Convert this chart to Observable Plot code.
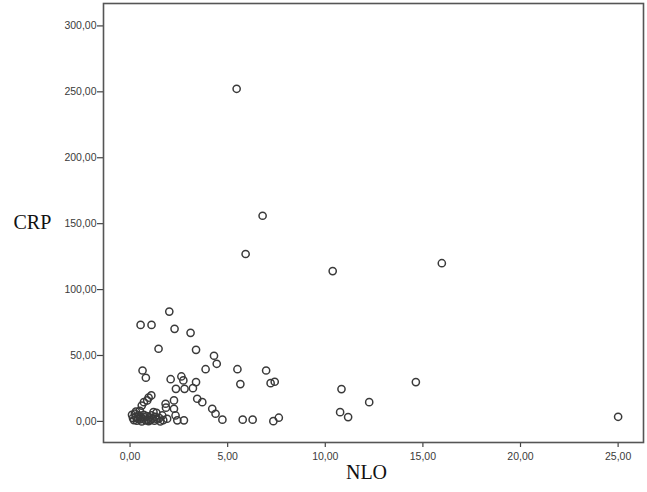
<!DOCTYPE html>
<html>
<head>
<meta charset="utf-8">
<script src="https://cdn.jsdelivr.net/npm/d3@7"></script>
<script src="https://cdn.jsdelivr.net/npm/@observablehq/plot@0.6"></script>
<style>
  html, body { margin: 0; padding: 0; background: #fff; }
</style>
</head>
<body>
<div id="chart"></div>
<script>
const nlo = [
  5.46, 6.79, 5.92, 10.38, 15.97, 25.0, 10.83, 14.64, 12.25, 10.76, 11.17,
  2.01, 0.54, 1.10, 2.28, 3.10, 1.46, 3.38, 4.30, 4.44, 3.87, 5.50, 6.97,
  0.64, 0.81, 2.08, 2.63, 2.73, 3.38, 5.65, 7.20, 7.41, 2.35, 2.79, 3.22,
  1.09, 0.95, 0.88, 0.71, 0.60, 2.25, 3.44, 3.70, 1.82, 2.25, 1.84, 4.21,
  4.38, 4.73, 1.65, 1.90, 2.33, 2.42, 2.76, 5.77, 6.28, 7.34, 7.62,
  0.10, 0.15, 0.20, 0.25, 0.30, 0.35, 0.40, 0.45, 0.50, 0.55, 0.60, 0.65,
  0.70, 0.75, 0.80, 0.85, 0.90, 0.95, 1.00, 1.05, 1.10, 1.15, 1.25, 1.30,
  1.40, 1.50, 1.55, 1.70, 0.30, 0.50, 1.20, 1.35
];
const crp = [
  252.3, 156.0, 127.0, 114.0, 120.0, 3.5, 24.5, 29.8, 14.6, 7.0, 3.3,
  83.3, 73.2, 73.2, 70.2, 67.2, 55.1, 54.3, 49.8, 43.7, 39.6, 39.6, 38.6,
  38.6, 33.1, 32.0, 34.1, 31.1, 29.8, 28.3, 29.0, 30.1, 24.7, 24.7, 25.2,
  19.7, 18.0, 15.9, 14.6, 12.0, 15.9, 17.2, 14.6, 13.4, 9.6, 10.4, 9.6,
  5.8, 1.3, 4.5, 2.0, 4.5, 0.8, 0.8, 1.3, 1.3, 0.2, 2.8,
  5.0, 2.5, 1.0, 6.0, 3.5, 0.5, 2.0, 4.5, 1.5, 3.0, 0.0, 2.0,
  5.0, 3.0, 0.8, 4.0, 1.5, 0.2, 3.0, 1.0, 4.5, 2.0, 0.5, 3.5,
  1.5, 2.5, 0.0, 1.0, 7.5, 8.0, 7.0, 6.5
];
const xTicks = [0, 5, 10, 15, 20, 25];
const yTicks = [0, 50, 100, 150, 200, 250, 300];
const xTitle = "NLO";
const yTitle = "CRP";

const data = nlo.map((v, i) => ({nlo: v, crp: crp[i]}));
const fmt = d => d3.format(".2f")(d).replace(".", ",");

const chart = Plot.plot({
  width: 647,
  height: 492,
  marginLeft: 103,
  marginRight: 4,
  marginTop: 3,
  marginBottom: 50,
  style: {fontFamily: "'Liberation Sans', Arial, sans-serif", fontSize: "10.5px", color: "#3a3a3a", background: "#fff"},
  x: {domain: [-1.36, 26.3]},
  y: {domain: [-16, 317]},
  marks: [
    Plot.axisX({ticks: xTicks, tickFormat: fmt, tickSize: 5, tickPadding: 5, label: null, stroke: "#444", strokeWidth: 1.2}),
    Plot.axisY({ticks: yTicks, tickFormat: fmt, tickSize: 6, tickPadding: 1, label: null, stroke: "#444", strokeWidth: 1.2}),
    Plot.frame({stroke: "#555", strokeWidth: 1.6}),
    Plot.dot(data, {x: "nlo", y: "crp", r: 3.6, stroke: "#3a3a3a", strokeWidth: 1.5, fill: "none"}),
    Plot.text([yTitle], {frameAnchor: "left", dx: -90, textAnchor: "start", fontSize: 20, fontFamily: "'Liberation Serif', 'Times New Roman', serif", fill: "#111"}),
    Plot.text([xTitle], {frameAnchor: "bottom", dx: -7, dy: 36.6, fontSize: 20, fontFamily: "'Liberation Serif', 'Times New Roman', serif", fill: "#111"})
  ]
});
document.getElementById("chart").appendChild(chart);
</script>
</body>
</html>
